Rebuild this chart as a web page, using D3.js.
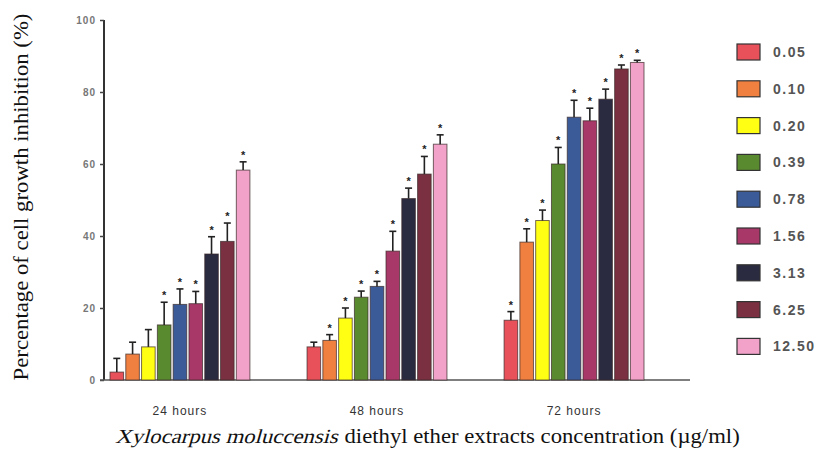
<!DOCTYPE html>
<html>
<head>
<meta charset="utf-8">
<script src="https://cdn.jsdelivr.net/npm/d3@7"></script>
<style>
  body { margin: 0; background: #fff; }
  svg { display: block; }
  .serif { font-family: "Liberation Serif", "Times New Roman", serif; }
</style>
</head>
<body>
<svg id="chart" width="832" height="450"></svg>
<script>
// data
const groups = ["24 hours", "48 hours", "72 hours"];
const concentrations = ["0.05", "0.10", "0.20", "0.39", "0.78", "1.56", "3.13", "6.25", "12.50"];
const colors = ["#e8505a", "#f08040", "#ffff14", "#5a8a30", "#3a5a98", "#a83868", "#2a2a40", "#7a3040", "#f2a2c8"];

const mean24 = [2.2, 7.2, 9.2, 15.3, 21, 21.2, 35, 38.5, 58.3];
const err24 = [3.8, 3.3, 4.8, 6.3, 4.3, 3.4, 4.8, 5.1, 2.3];
const mean48 = [9.2, 11, 17.2, 23, 26, 35.8, 50.4, 57.2, 65.5];
const err48 = [1.3, 1.6, 2.8, 1.7, 1.4, 5.5, 2.9, 4.9, 2.6];
const mean72 = [16.6, 38.3, 44.3, 60, 73, 72, 78, 86.4, 88.2];
const err72 = [2.4, 3.7, 2.9, 4.6, 4.7, 3.5, 2.8, 1.1, 0.6];
const sig24 = [false, false, false, true, true, true, true, true, true];
const sig48 = [false, true, true, true, true, true, true, true, true];
const sig72 = [true, true, true, true, true, true, true, true, true];
const yTicks = [0, 20, 40, 60, 80, 100];

const means = [mean24, mean48, mean72];
const errs = [err24, err48, err72];
const sigs = [sig24, sig48, sig72];

const rows = [];
groups.forEach((g, gi) => {
  concentrations.forEach((c, ci) => {
    rows.push({ group: g, conc: c, value: means[gi][ci], err: errs[gi][ci], sig: sigs[gi][ci] });
  });
});

const svg = d3.select("#chart");

const x0 = d3.scaleBand().domain(groups).range([110, 644]).paddingInner(0.29).paddingOuter(0);
const x1 = d3.scaleBand().domain(concentrations).range([0, x0.bandwidth()]).paddingInner(0.14).paddingOuter(0);
const color = d3.scaleOrdinal().domain(concentrations).range(colors);
const y = d3.scaleLinear().domain([0, 100]).range([380, 20]);

// y axis
const yAxis = svg.append("g")
  .attr("transform", "translate(104,0)")
  .call(d3.axisLeft(y).tickValues(yTicks).tickSize(4).tickPadding(4));
yAxis.select(".domain").attr("stroke", "#333").attr("stroke-width", 2).attr("d", "M0,20V380");
yAxis.selectAll(".tick line").attr("stroke", "#444").attr("stroke-width", 1.5);
yAxis.selectAll(".tick text")
  .attr("font-family", "Liberation Sans, Arial, sans-serif")
  .attr("font-size", 10).attr("font-weight", "bold")
  .attr("fill", "#777").attr("letter-spacing", 1);

// x axis baseline
svg.append("line")
  .attr("x1", 100).attr("x2", 690)
  .attr("y1", y(0)).attr("y2", y(0))
  .attr("stroke", "#555").attr("stroke-width", 1.5);

// group labels
svg.selectAll(".glabel")
  .data(groups)
  .enter()
  .append("text")
  .attr("class", "glabel")
  .attr("x", (d) => x0(d) + x0.bandwidth() / 2)
  .attr("y", 415)
  .attr("text-anchor", "middle")
  .attr("font-family", "Liberation Sans, Arial, sans-serif")
  .attr("font-size", 12)
  .attr("letter-spacing", 1)
  .attr("fill", "#333")
  .text((d) => d);

// bars
const bars = svg.append("g");
bars.selectAll("rect")
  .data(rows)
  .enter()
  .append("rect")
  .attr("x", (d) => x0(d.group) + x1(d.conc))
  .attr("y", (d) => y(d.value))
  .attr("width", x1.bandwidth())
  .attr("height", (d) => y(0) - y(d.value))
  .attr("fill", (d) => color(d.conc))
  .attr("stroke", "#3a2a2a")
  .attr("stroke-opacity", 0.7)
  .attr("stroke-width", 1);

// error bars (upper only)
const eb = svg.append("g").attr("stroke", "#222").attr("stroke-width", 1.6);
eb.selectAll(".ev")
  .data(rows)
  .enter()
  .append("line")
  .attr("x1", (d) => x0(d.group) + x1(d.conc) + x1.bandwidth() / 2)
  .attr("x2", (d) => x0(d.group) + x1(d.conc) + x1.bandwidth() / 2)
  .attr("y1", (d) => y(d.value))
  .attr("y2", (d) => y(d.value + d.err));
eb.selectAll(".ec")
  .data(rows)
  .enter()
  .append("line")
  .attr("x1", (d) => x0(d.group) + x1(d.conc) + x1.bandwidth() / 2 - 3.5)
  .attr("x2", (d) => x0(d.group) + x1(d.conc) + x1.bandwidth() / 2 + 3.5)
  .attr("y1", (d) => y(d.value + d.err))
  .attr("y2", (d) => y(d.value + d.err));

// significance marks
svg.selectAll(".sig")
  .data(rows.filter((d) => d.sig))
  .enter()
  .append("text")
  .attr("x", (d) => x0(d.group) + x1(d.conc) + x1.bandwidth() / 2)
  .attr("y", (d) => y(d.value + d.err) - 3)
  .attr("text-anchor", "middle")
  .attr("font-family", "Liberation Sans, Arial, sans-serif")
  .attr("font-size", 11)
  .attr("font-weight", "bold")
  .attr("fill", "#222")
  .text("*");

// legend
const legend = svg.append("g");
const items = legend.selectAll("g")
  .data(concentrations)
  .enter()
  .append("g")
  .attr("transform", (d, i) => `translate(737, ${52 + i * 36.8})`);
items.append("rect")
  .attr("x", 0).attr("y", -8)
  .attr("width", 23).attr("height", 16)
  .attr("fill", (d) => color(d))
  .attr("stroke", "#333").attr("stroke-width", 1.2);
items.append("text")
  .attr("x", 36).attr("y", 5)
  .attr("font-family", "Liberation Sans, Arial, sans-serif")
  .attr("font-size", 14)
  .attr("font-weight", "bold")
  .attr("letter-spacing", 1.5)
  .attr("fill", "#555")
  .text((d) => d);

// x title: species name slanted by hand (no serif italic face installed)
const xg = svg.append("g");
const xa = xg.append("text")
  .attr("class", "serif")
  .attr("font-size", 20)
  .attr("fill", "#111")
  .attr("transform", "skewX(-14)")
  .text("Xylocarpus moluccensis");
const xb = xg.append("text")
  .attr("class", "serif")
  .attr("font-size", 20)
  .attr("fill", "#111")
  .text("diethyl ether extracts concentration (\u00b5g/ml)");
const wa = xa.node().getComputedTextLength();
const wb = xb.node().getComputedTextLength();
xb.attr("x", wa + 6);
const kx = 625 / (wa + wb + 6);
xg.attr("transform", `translate(115,443) scale(${kx},1)`);

const yt = svg.append("text")
  .attr("class", "serif")
  .attr("text-anchor", "middle")
  .attr("font-size", 20)
  .attr("fill", "#111")
  .text("Percentage of cell growth inhibition (%)");
const ky = 367 / yt.node().getComputedTextLength();
yt.attr("transform", `translate(28,197) rotate(-90) scale(${ky},1)`);
</script>
</body>
</html>
